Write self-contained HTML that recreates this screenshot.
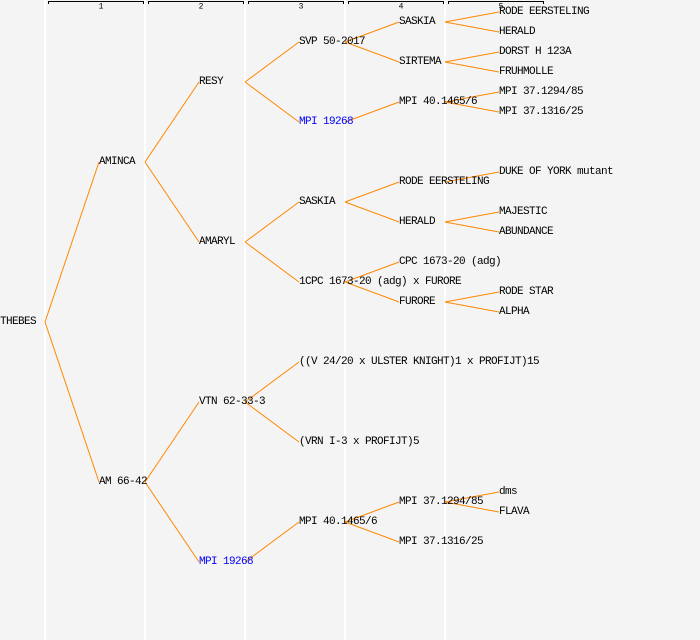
<!DOCTYPE html>
<html><head><meta charset="utf-8"><style>
html,body{margin:0;padding:0;background:#f4f4f4;}
svg{display:block;}
text{font-family:"Liberation Mono",monospace;font-size:11px;letter-spacing:-0.6px;fill:#000;dominant-baseline:central;}
</style></head><body>
<svg width="700" height="640" xmlns="http://www.w3.org/2000/svg">
<rect width="700" height="640" fill="#f4f4f4"/>
<g fill="#ffffff">
<rect x="44" y="0" width="2" height="640"/>
<rect x="144" y="0" width="2" height="640"/>
<rect x="244" y="0" width="2" height="640"/>
<rect x="344" y="0" width="2" height="640"/>
<rect x="444" y="0" width="2" height="640"/>
</g>
<g stroke="#000" stroke-width="1" fill="none">
<path d="M48.5,4 V1.5 H143.5 V4"/>
<path d="M148.5,4 V1.5 H243.5 V4"/>
<path d="M248.5,4 V1.5 H343.5 V4"/>
<path d="M348.5,4 V1.5 H443.5 V4"/>
<path d="M448.5,4 V1.5 H543.5 V4"/>
</g>
<text x="101" y="7" text-anchor="middle" style="font-size:8px;letter-spacing:0">1</text>
<text x="201" y="7" text-anchor="middle" style="font-size:8px;letter-spacing:0">2</text>
<text x="301" y="7" text-anchor="middle" style="font-size:8px;letter-spacing:0">3</text>
<text x="401" y="7" text-anchor="middle" style="font-size:8px;letter-spacing:0">4</text>
<text x="501" y="7" text-anchor="middle" style="font-size:8px;letter-spacing:0">5</text>
<g stroke="#ff8800" stroke-width="1" fill="none">
<path d="M45,322 L99,162 M45,322 L99,482"/>
<path d="M145,162 L199,82 M145,162 L199,242 M145,482 L199,402 M145,482 L199,562"/>
<path d="M245,82 L299,42 M245,82 L299,122 M245,242 L299,202 M245,242 L299,282 M245,402 L299,362 M245,402 L299,442 M245,562 L299,522"/>
<path d="M345,42 L399,22 M345,42 L399,62 M345,122 L399,102 M345,202 L399,182 M345,202 L399,222 M345,282 L399,262 M345,282 L399,302 M345,522 L399,502 M345,522 L399,542"/>
<path d="M445,22 L499,12 M445,22 L499,32 M445,62 L499,52 M445,62 L499,72 M445,102 L499,92 M445,102 L499,112 M445,182 L499,172 M445,222 L499,212 M445,222 L499,232 M445,302 L499,292 M445,302 L499,312 M445,502 L499,492 M445,502 L499,512"/>
</g>
<text x="0" y="322">THEBES</text>
<text x="99" y="162">AMINCA</text>
<text x="99" y="482">AM 66-42</text>
<text x="199" y="82">RESY</text>
<text x="199" y="242">AMARYL</text>
<text x="199" y="402">VTN 62-33-3</text>
<text x="199" y="562" style="fill:#0000ff">MPI 19268</text>
<text x="299" y="42">SVP 50-2017</text>
<text x="299" y="122" style="fill:#0000ff">MPI 19268</text>
<text x="299" y="202">SASKIA</text>
<text x="299" y="282">1CPC 1673-20 (adg) x FURORE</text>
<text x="299" y="362">((V 24/20 x ULSTER KNIGHT)1 x PROFIJT)15</text>
<text x="299" y="442">(VRN I-3 x PROFIJT)5</text>
<text x="299" y="522">MPI 40.1465/6</text>
<text x="399" y="22">SASKIA</text>
<text x="399" y="62">SIRTEMA</text>
<text x="399" y="102">MPI 40.1465/6</text>
<text x="399" y="182">RODE EERSTELING</text>
<text x="399" y="222">HERALD</text>
<text x="399" y="262">CPC 1673-20 (adg)</text>
<text x="399" y="302">FURORE</text>
<text x="399" y="502">MPI 37.1294/85</text>
<text x="399" y="542">MPI 37.1316/25</text>
<text x="499" y="12">RODE EERSTELING</text>
<text x="499" y="32">HERALD</text>
<text x="499" y="52">DORST H 123A</text>
<text x="499" y="72">FRUHMOLLE</text>
<text x="499" y="92">MPI 37.1294/85</text>
<text x="499" y="112">MPI 37.1316/25</text>
<text x="499" y="172">DUKE OF YORK mutant</text>
<text x="499" y="212">MAJESTIC</text>
<text x="499" y="232">ABUNDANCE</text>
<text x="499" y="292">RODE STAR</text>
<text x="499" y="312">ALPHA</text>
<text x="499" y="492">dms</text>
<text x="499" y="512">FLAVA</text>
</svg>
</body></html>
